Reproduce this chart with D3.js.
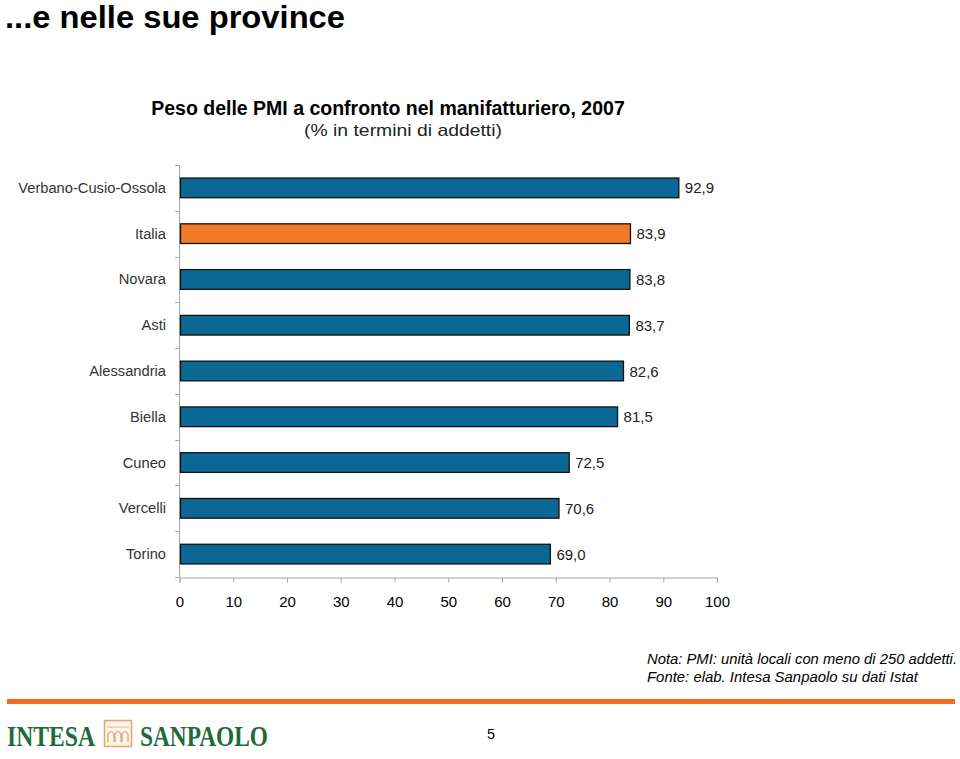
<!DOCTYPE html>
<html><head><meta charset="utf-8">
<script src="https://cdn.jsdelivr.net/npm/d3@7"></script>
<style>body{margin:0;background:#fff}svg{display:block;font-family:"Liberation Sans",Arial,sans-serif}</style>
</head><body>
<svg id="c" width="960" height="759"></svg>
<script>
const categories = ["Verbano-Cusio-Ossola","Italia","Novara","Asti","Alessandria","Biella","Cuneo","Vercelli","Torino"];
const values = [92.9,83.9,83.8,83.7,82.6,81.5,72.5,70.6,69.0];
const highlight = ["Italia"];
const xTicks = [0,10,20,30,40,50,60,70,80,90,100];

const svg = d3.select("#c");
const x = d3.scaleLinear().domain([0,100]).range([179.5,717]);
const y = d3.scaleBand().domain(categories).range([165,577]).paddingInner(0.57).paddingOuter(0.285);
const yb = d3.scaleBand().domain(categories).range([165,577]);

svg.append("text").attr("x",5).attr("y",28).attr("font-size",32).attr("font-weight","bold").attr("fill","#000")
  .attr("textLength",340).attr("lengthAdjust","spacingAndGlyphs").text("...e nelle sue province");
svg.append("text").attr("x",388).attr("y",115).attr("text-anchor","middle").attr("font-size",19.5).attr("font-weight","bold").text("Peso delle PMI a confronto nel manifatturiero, 2007");
svg.append("text").attr("x",304).attr("y",136).attr("font-size",16.5).attr("fill","#222")
  .attr("textLength",198).attr("lengthAdjust","spacingAndGlyphs").text("(% in termini di addetti)");

const axisColor = "#a6a6a6";
svg.append("line").attr("x1",179.5).attr("x2",179.5).attr("y1",165).attr("y2",577).attr("stroke",axisColor);
const yTickPos = categories.map(c=>yb(c)).concat([577]);
svg.selectAll(".yt").data(yTickPos).join("line").attr("x1",175).attr("x2",179.5).attr("y1",d=>Math.round(d)+0.5).attr("y2",d=>Math.round(d)+0.5).attr("stroke",axisColor);

const xAxis = svg.append("g").attr("transform","translate(0,577.5)").call(d3.axisBottom(x).tickValues(xTicks).tickSize(5).tickPadding(14).tickFormat(d3.format("d")));
xAxis.select(".domain").attr("stroke",axisColor);
xAxis.selectAll(".tick line").attr("stroke",axisColor);
xAxis.selectAll(".tick text").attr("font-size",15).attr("fill","#000").attr("font-family","Liberation Sans, Arial, sans-serif");

svg.selectAll(".bar").data(categories).join("rect")
  .attr("x",x(0)+1).attr("y",d=>y(d)).attr("height",y.bandwidth())
  .attr("width",(d,i)=>x(values[i])-x(0)-1)
  .attr("fill",d=>highlight.includes(d)?"#F07A28":"#0B6894")
  .attr("stroke","#111").attr("stroke-width",1.3);

svg.selectAll(".cl").data(categories).join("text")
  .attr("x",166).attr("y",d=>y(d)+y.bandwidth()/2+5).attr("text-anchor","end")
  .attr("font-size",14.7).attr("fill","#333").text(d=>d);
svg.selectAll(".vl").data(categories).join("text")
  .attr("x",(d,i)=>x(values[i])+6).attr("y",d=>y(d)+y.bandwidth()/2+5.5)
  .attr("font-size",15).attr("fill","#222").text((d,i)=>values[i].toFixed(1).replace(".",","));

svg.append("text").attr("x",647).attr("y",664).attr("font-size",14.5).attr("font-style","italic")
  .attr("textLength",310).attr("lengthAdjust","spacingAndGlyphs").text("Nota: PMI: unità locali con meno di 250 addetti.");
svg.append("text").attr("x",647).attr("y",682).attr("font-size",14.5).attr("font-style","italic")
  .attr("textLength",271).attr("lengthAdjust","spacingAndGlyphs").text("Fonte: elab. Intesa Sanpaolo su dati Istat");

svg.append("rect").attr("x",7).attr("y",699).attr("width",948).attr("height",5).attr("fill","#F26B21");
svg.append("text").attr("x",7).attr("y",746).attr("font-family","Liberation Serif, serif").attr("font-size",30).attr("font-weight","bold").attr("fill","#1E6B3A").attr("textLength",88).attr("lengthAdjust","spacingAndGlyphs").text("INTESA");
svg.append("rect").attr("x",104.5).attr("y",720.5).attr("width",27).attr("height",26).attr("fill","#fdf3e6").attr("stroke","#E9A36A").attr("stroke-width",1.5);
const arch = svg.append("g").attr("fill","none").attr("stroke","#C9A47A").attr("stroke-width",1.2);
[108,115,122].forEach(ax=>arch.append("path").attr("d",`M${ax},742 L${ax},734 Q${ax+3},729 ${ax+6},734 L${ax+6},742`));
arch.append("line").attr("x1",107).attr("x2",129).attr("y1",727).attr("y2",727).attr("stroke","#d8c9a0");
svg.append("text").attr("x",140).attr("y",746).attr("font-family","Liberation Serif, serif").attr("font-size",30).attr("font-weight","bold").attr("fill","#1E6B3A").attr("textLength",128).attr("lengthAdjust","spacingAndGlyphs").text("SANPAOLO");
svg.append("text").attr("x",491).attr("y",739).attr("text-anchor","middle").attr("font-size",14.5).text("5");
</script>
</body></html>
